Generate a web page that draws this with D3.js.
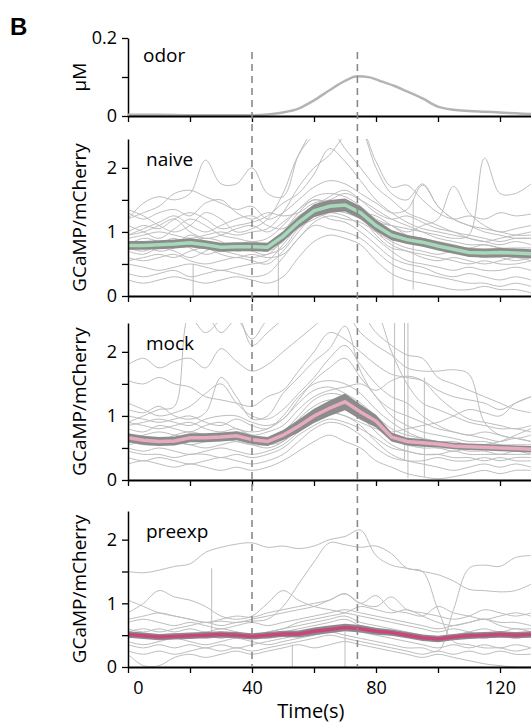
<!DOCTYPE html>
<html>
<head>
<meta charset="utf-8">
<script src="https://cdn.jsdelivr.net/npm/d3@7"></script>
<style>
  body { margin: 0; background: #fff; }
  text { font-family: "Open Sans", sans-serif; }
</style>
</head>
<body>
<div id="chart"></div>
<script>
// sample times (s) shared by every trace and mean
var times = [0,5,10,15,20,25,30,35,40,45,50,55,60,65,70,75,80,85,90,95,100,105,110,115,120,125,130];

// odor concentration (uM)
var odorTimes = [0,10,20,30,40,45,50,55,60,65,70,74,78,82,86,90,95,100,105,110,115,120,125,130];
var odorValues = [0.003,0.003,0.002,0.002,0.002,0.004,0.009,0.019,0.04,0.066,0.09,0.102,0.099,0.088,0.077,0.063,0.045,0.024,0.016,0.013,0.011,0.009,0.007,0.005];

// stimulus markers (s)
var markerTimes = [40, 74];

// naive
var naiveTraces = [
  [1.2,1.45,1.55,1.5,1.6,2.12,1.75,1.75,2.0,1.6,1.55,2.2,2.6,2.8,2.7,2.6,2.0,1.6,1.5,1.75,1.4,1.2,1.1,1.0,0.95,0.9,0.9],
  [0.95,1.0,1.1,1.2,1.0,0.9,0.95,1.05,1.1,1.0,1.15,1.35,1.5,1.45,1.35,1.25,1.15,1.1,1.05,1.0,0.95,0.9,0.95,2.15,1.6,1.6,1.75],
  [1.35,1.25,1.1,1.0,1.1,1.3,1.2,1.0,1.05,1.2,1.6,2.2,2.5,2.6,2.3,2.0,1.7,1.5,1.3,1.2,1.1,1.0,0.95,0.9,0.85,0.9,0.9],
  [0.9,0.95,1.0,0.95,0.9,0.95,1.0,0.95,1.0,1.05,1.3,1.7,2.0,2.2,2.5,2.6,2.1,1.7,1.73,1.5,1.3,1.2,1.25,1.2,1.3,1.25,1.28],
  [1.2,1.3,1.4,1.6,1.65,1.55,1.45,1.35,1.4,1.2,1.3,1.5,1.7,1.8,1.75,1.6,1.45,1.3,1.35,1.73,1.4,1.2,1.1,1.05,1.0,0.95,0.95],
  [1.1,1.0,0.9,1.05,1.2,1.1,0.95,0.9,0.85,0.9,1.1,1.35,1.55,1.6,1.55,1.4,1.2,1.1,1.0,1.1,1.2,1.71,1.3,1.1,1.0,1.05,1.1],
  [0.8,0.9,0.85,0.8,0.95,0.85,0.75,0.8,0.85,0.8,1.0,1.3,1.5,1.45,1.5,1.35,1.05,0.9,0.85,0.8,0.75,0.7,0.65,0.6,0.65,0.6,0.6],
  [0.7,0.65,0.75,0.7,0.6,0.7,0.8,0.75,0.7,0.65,0.9,1.2,1.4,1.35,1.3,1.2,1.0,0.8,0.7,0.65,0.6,0.55,0.5,0.55,0.5,0.5,0.55],
  [0.6,0.55,0.6,0.65,0.55,0.5,0.55,0.6,0.55,0.5,0.7,1.0,1.25,1.3,1.25,1.1,0.9,0.7,0.55,0.5,0.45,0.4,0.45,0.4,0.4,0.45,0.4],
  [0.5,0.45,0.4,0.45,0.5,0.45,0.4,0.45,0.5,0.55,0.8,1.1,1.3,1.2,1.15,1.0,0.8,0.6,0.5,0.45,0.35,0.3,0.35,0.3,0.25,0.3,0.25],
  [0.35,0.3,0.35,0.4,0.3,0.35,0.4,0.35,0.3,0.35,0.6,0.9,1.1,1.05,1.0,0.9,0.7,0.5,0.4,0.35,0.3,0.25,0.2,0.2,0.15,0.2,0.15],
  [1.0,1.1,1.05,1.2,1.3,1.2,1.05,1.1,1.15,1.25,1.45,1.6,1.9,2.3,2.1,1.8,1.5,1.3,1.15,1.05,1.0,0.95,0.9,0.85,0.8,0.85,0.8],
  [0.85,0.8,0.7,0.75,0.85,0.9,0.85,0.7,0.75,0.7,0.85,1.15,1.35,1.4,1.35,1.3,1.25,1.1,0.95,0.9,0.85,0.8,0.75,0.8,0.75,0.7,0.7],
  [0.75,0.7,0.8,0.9,0.75,0.65,0.7,0.65,0.6,0.65,0.75,1.05,1.2,1.3,1.4,1.25,0.95,0.75,0.7,0.6,0.55,0.6,0.55,0.5,0.55,0.6,0.55],
  [0.95,1.05,1.15,1.25,1.1,1.0,1.1,1.2,1.25,1.1,1.05,1.25,1.4,1.55,1.65,1.5,1.3,1.2,1.25,1.15,1.05,1.0,0.9,0.85,0.9,0.95,1.0],
  [0.55,0.6,0.65,0.6,0.7,0.75,0.65,0.6,0.65,0.6,0.65,0.9,1.15,1.25,1.2,1.15,1.0,0.85,0.75,0.7,0.65,0.7,0.65,0.6,0.6,0.55,0.6],
  [0.25,0.2,0.25,0.3,0.25,0.2,0.25,0.3,0.25,0.2,0.3,0.6,0.85,0.95,0.9,0.8,0.55,0.35,0.25,0.2,0.15,0.1,0.1,0.15,0.1,0.1,0.05],
  [1.3,1.2,1.3,1.35,1.25,1.45,1.5,1.3,1.2,1.3,1.25,1.3,1.45,1.5,1.6,1.5,1.35,1.2,1.1,1.0,0.9,0.85,0.8,0.8,0.75,0.75,0.75]
];
var naiveSpikes = [[21,0.5,0],[48.5,0.9,0],[85.5,0.9,0],[92,1.5,0.1]];   // [time, from, to]
var naiveMean = [0.79,0.79,0.80,0.81,0.83,0.80,0.76,0.77,0.77,0.76,0.93,1.15,1.33,1.40,1.42,1.30,1.10,0.95,0.88,0.84,0.78,0.73,0.68,0.67,0.68,0.67,0.66];
var naiveSem = [0.07,0.07,0.07,0.07,0.07,0.07,0.07,0.07,0.07,0.07,0.08,0.09,0.1,0.1,0.1,0.1,0.09,0.08,0.07,0.07,0.07,0.07,0.07,0.07,0.07,0.07,0.07];

// mock
var mockTraces = [
  [1.8,1.9,1.75,1.85,1.9,1.75,2.05,1.85,1.7,1.8,2.0,2.2,2.4,2.6,2.6,2.3,2.1,1.95,1.75,1.7,1.7,1.72,1.65,0.9,0.7,0.65,0.6],
  [1.55,1.5,1.6,1.5,1.45,1.3,1.25,1.2,1.15,1.3,1.4,1.7,2.0,2.3,2.2,2.0,1.8,1.65,1.6,1.55,1.4,1.3,1.25,1.2,1.1,1.2,1.3],
  [0.9,1.0,1.1,1.15,2.6,2.6,2.3,2.5,2.2,2.5,2.6,2.6,2.6,2.6,2.6,2.6,2.6,2.0,1.5,1.2,1.1,1.0,0.9,0.85,0.8,0.8,0.75],
  [1.2,1.1,1.0,1.05,1.15,1.35,1.5,1.2,1.0,0.95,1.1,1.35,1.6,1.9,2.1,1.8,1.5,1.3,1.2,1.0,0.85,0.75,0.7,0.65,0.6,0.65,0.6],
  [1.0,0.95,0.9,0.95,1.0,0.9,0.85,0.95,0.85,0.8,1.0,1.3,1.5,1.55,1.5,1.35,1.1,0.9,0.75,0.65,0.6,0.6,0.55,0.55,0.5,0.5,0.5],
  [0.8,0.75,0.85,0.8,0.75,0.85,0.9,0.8,0.75,0.8,0.95,1.2,1.4,1.45,1.35,1.2,1.0,0.8,0.7,0.65,0.6,0.55,0.55,0.5,0.5,0.45,0.45],
  [0.7,0.65,0.6,0.7,0.75,0.7,0.65,0.75,0.7,0.6,0.75,1.0,1.25,1.35,1.3,1.1,0.9,0.7,0.6,0.55,0.5,0.5,0.45,0.45,0.4,0.45,0.4],
  [0.6,0.55,0.55,0.6,0.55,0.5,0.55,0.6,0.55,0.5,0.6,0.85,1.05,1.2,1.15,1.0,0.75,0.55,0.45,0.4,0.4,0.35,0.35,0.3,0.35,0.3,0.3],
  [0.5,0.45,0.5,0.45,0.4,0.45,0.5,0.45,0.4,0.45,0.55,0.75,0.95,1.05,1.0,0.85,0.6,0.4,0.3,0.25,0.2,0.15,0.2,0.25,0.2,0.25,0.2],
  [0.35,0.3,0.35,0.3,0.25,0.3,0.35,0.3,0.25,0.3,0.4,0.6,0.8,0.9,0.85,0.7,0.5,0.35,0.3,0.3,0.35,0.3,0.3,0.35,0.3,0.35,0.35],
  [0.25,0.3,0.25,0.2,0.25,0.2,0.15,0.2,0.15,0.2,0.3,0.45,0.6,0.7,0.6,0.5,0.3,0.2,0.1,0.05,0.02,0.05,0.1,0.15,0.1,0.15,0.15],
  [1.1,1.05,1.15,1.0,0.95,1.05,1.6,1.3,0.95,1.0,1.35,1.6,1.85,2.05,2.4,1.7,1.3,1.1,1.0,0.9,0.8,0.75,0.7,0.75,0.7,0.65,0.7],
  [0.9,0.85,0.8,0.85,0.9,0.8,0.75,0.8,0.7,0.75,0.85,1.1,1.3,1.4,1.45,1.5,1.4,1.55,1.62,1.55,1.3,1.1,0.95,0.9,0.85,0.8,0.85],
  [0.65,0.7,0.75,0.7,0.65,0.6,0.7,0.65,0.6,0.65,0.7,0.95,1.15,1.25,1.2,1.05,0.85,0.65,0.55,0.5,0.5,0.45,0.5,0.55,0.6,0.7,0.8],
  [0.45,0.4,0.4,0.35,0.4,0.4,0.35,0.4,0.35,0.4,0.5,0.7,0.85,0.95,0.9,0.8,0.65,0.5,0.45,0.4,0.4,0.45,0.4,0.4,0.4,0.4,0.4],
  [0.55,0.6,0.65,0.6,0.55,0.6,0.65,0.6,0.55,0.55,0.6,0.8,1.0,1.05,1.0,0.9,0.8,0.75,0.8,0.85,0.9,1.0,1.1,1.05,1.0,1.2,1.3],
  [2.6,2.6,2.6,2.6,2.55,2.3,2.5,2.6,2.1,2.3,2.5,2.6,2.6,2.6,2.6,2.6,2.3,2.1,1.95,1.9,1.6,1.5,1.4,1.3,1.2,1.1,1.05],
  [0.85,0.9,0.95,0.9,0.85,0.95,1.0,1.0,0.9,0.85,0.95,1.25,1.55,1.75,1.9,1.6,1.3,1.0,0.85,0.75,0.7,0.65,0.6,0.6,0.55,0.55,0.55]
];
var mockSpikes = [[86,2.45,0.6],[89.2,2.45,0.3],[90.3,2.45,0.03],[95.6,1.6,0.05]];
var mockMean = [0.66,0.62,0.60,0.61,0.66,0.66,0.67,0.69,0.63,0.60,0.70,0.84,1.00,1.12,1.22,1.06,0.92,0.67,0.60,0.58,0.56,0.53,0.52,0.51,0.50,0.49,0.48];
var mockSem = [0.07,0.07,0.07,0.07,0.07,0.07,0.07,0.07,0.07,0.07,0.08,0.1,0.11,0.12,0.13,0.12,0.1,0.07,0.06,0.06,0.05,0.05,0.05,0.05,0.05,0.05,0.05];

// preexp
var preexpTraces = [
  [1.5,1.48,1.52,1.58,1.62,1.8,1.88,1.93,1.95,1.88,1.9,1.86,1.9,2.0,2.05,2.15,1.75,1.6,1.55,1.5,1.45,1.35,1.22,1.2,1.18,1.2,1.3],
  [0.55,0.6,0.55,0.6,0.65,0.7,0.65,0.7,0.72,0.75,0.95,1.3,1.65,1.95,1.92,1.88,1.9,1.78,1.55,1.5,0.9,0.4,0.35,0.3,0.3,0.25,0.3],
  [0.4,0.35,0.4,0.45,0.4,0.35,0.4,0.45,0.4,0.35,0.4,0.45,0.5,0.55,0.5,0.45,0.4,0.35,0.3,0.3,0.25,0.9,1.55,1.6,1.58,1.72,1.75],
  [0.85,1.0,1.2,1.1,1.05,0.95,0.8,0.75,0.8,1.0,1.2,1.05,0.95,0.9,0.85,0.8,0.75,0.7,0.65,0.6,0.55,0.6,0.55,0.5,0.55,0.5,0.5],
  [0.5,0.48,0.5,0.52,0.5,0.55,0.5,0.48,0.5,0.45,0.5,0.52,0.55,0.6,0.62,0.6,0.55,0.5,0.48,0.45,0.42,0.45,0.48,0.5,0.5,0.52,0.5],
  [1.05,0.95,0.85,0.8,0.75,0.7,0.72,0.7,0.75,0.8,0.85,0.9,0.95,1.05,1.15,1.0,0.95,1.1,0.9,0.85,0.8,0.75,0.8,0.9,0.85,0.8,0.85],
  [0.7,0.75,0.7,0.65,0.7,0.65,0.6,0.65,0.7,0.65,0.7,0.75,0.8,0.85,0.9,0.85,0.8,0.75,0.7,0.65,0.6,0.65,0.7,0.75,0.7,0.7,0.65],
  [0.6,0.55,0.6,0.55,0.6,0.55,0.6,0.55,0.5,0.55,0.6,0.65,0.7,0.75,0.8,0.7,0.65,0.6,0.55,0.5,0.45,0.5,0.55,0.6,0.55,0.6,0.55],
  [0.45,0.5,0.45,0.5,0.45,0.5,0.45,0.5,0.45,0.5,0.55,0.6,0.65,0.7,0.75,0.65,0.6,0.55,0.5,0.45,0.4,0.45,0.5,0.45,0.5,0.45,0.5],
  [0.35,0.3,0.35,0.3,0.35,0.3,0.35,0.3,0.35,0.4,0.45,0.5,0.55,0.6,0.6,0.55,0.5,0.45,0.4,0.35,0.3,0.35,0.3,0.35,0.3,0.35,0.3],
  [0.25,0.2,0.25,0.2,0.25,0.3,0.25,0.3,0.25,0.3,0.35,0.4,0.45,0.5,0.45,0.4,0.35,0.3,0.25,0.2,0.25,0.2,0.25,0.2,0.25,0.2,0.2],
  [0.2,0.02,0.02,0.15,0.2,0.15,0.2,0.25,0.2,0.25,0.3,0.35,0.3,0.35,0.4,0.35,0.3,0.25,0.2,0.15,0.2,0.15,0.1,0.05,0.02,0,0],
  [0.75,0.8,0.85,0.8,0.75,0.7,0.75,0.8,0.78,0.85,0.9,0.95,1.0,1.05,1.15,1.0,1.12,0.9,0.85,0.8,0.95,0.85,0.8,0.75,0.8,0.85,0.8],
  [0.55,0.5,0.5,0.45,0.5,0.45,0.5,0.55,0.5,0.55,0.6,0.7,0.75,0.8,0.85,0.95,0.9,0.85,0.9,0.8,0.7,0.65,0.7,0.75,0.65,0.6,0.6]
];
var preexpSpikes = [[27,0.5,1.55],[53,0.35,0],[70,0.6,0]];
var preexpMean = [0.51,0.49,0.47,0.48,0.49,0.50,0.51,0.50,0.48,0.50,0.52,0.52,0.56,0.59,0.62,0.60,0.56,0.54,0.50,0.46,0.44,0.47,0.49,0.50,0.51,0.50,0.51];
var preexpSem = [0.05,0.05,0.05,0.05,0.05,0.05,0.05,0.05,0.05,0.05,0.05,0.055,0.06,0.06,0.06,0.06,0.055,0.05,0.05,0.05,0.05,0.05,0.05,0.05,0.05,0.05,0.05];

var svgWidth = 531;
var svgHeight = 726;

var svg = d3.select("#chart")
  .append("svg")
  .attr("width", svgWidth)
  .attr("height", svgHeight);

var xScale = d3.scaleLinear().domain([0, 130]).range([128, 531]);

var panels = [
  { name: "naive", top: 139, bottom: 296, traces: naiveTraces, spikes: naiveSpikes, mean: naiveMean, sem: naiveSem, color: "#a6d9b9" },
  { name: "mock", top: 323, bottom: 480, traces: mockTraces, spikes: mockSpikes, mean: mockMean, sem: mockSem, color: "#e8aabf" },
  { name: "preexp", top: 511, bottom: 667, traces: preexpTraces, spikes: preexpSpikes, mean: preexpMean, sem: preexpSem, color: "#c9467c" }
];

// panel letter
svg.append("text")
  .attr("x", 10).attr("y", 35)
  .style("font-family", "'Liberation Sans', Arial, sans-serif")
  .style("font-weight", "bold")
  .style("font-size", "24px")
  .text("B");

function drawXAxis(y, labelled) {
  var axis = d3.axisBottom(xScale)
    .tickValues([0, 20, 40, 60, 80, 100, 120])
    .tickSize(6)
    .tickSizeOuter(0)
    .tickPadding(8)
    .tickFormat(function(d) { return labelled && d % 40 === 0 ? d : ""; });
  var g = svg.append("g").attr("transform", "translate(0," + y + ")").call(axis);
  g.select(".domain").attr("stroke", "#000").attr("stroke-width", 2);
  g.selectAll(".tick line").attr("stroke", "#000").attr("stroke-width", 1.3);
  g.selectAll(".tick text").style("font-size", "18px").attr("fill", "#000");
  g.selectAll(".tick text").filter(function(d) { return d === 0; }).attr("dx", 10);
  return g;
}

function drawYAxis(yScale, values, fmt) {
  var axis = d3.axisLeft(yScale)
    .tickValues(values)
    .tickSize(6)
    .tickSizeOuter(0)
    .tickPadding(5)
    .tickFormat(fmt);
  var g = svg.append("g").attr("transform", "translate(128,0)").call(axis);
  g.select(".domain").attr("stroke", "#000").attr("stroke-width", 1.5);
  g.selectAll(".tick line").attr("stroke", "#000").attr("stroke-width", 1.3);
  g.selectAll(".tick text").style("font-size", "18px").attr("fill", "#000");
}

// ---- odor panel ----
var yOdor = d3.scaleLinear().domain([0, 0.2]).range([116, 38]);
drawYAxis(yOdor, [0, 0.1, 0.2], function(d) { return d === 0.1 ? "" : (d === 0 ? "0" : "0.2"); });

var odorLine = d3.line()
  .x(function(d, i) { return xScale(odorTimes[i]); })
  .y(function(d) { return yOdor(d); })
  .curve(d3.curveMonotoneX);

svg.append("path")
  .attr("d", odorLine(odorValues))
  .attr("fill", "none")
  .attr("stroke", "#b4b4b4")
  .attr("stroke-width", 2.5);

drawXAxis(116, false);

svg.append("text")
  .attr("x", 143).attr("y", 62)
  .style("font-size", "19px")
  .text("odor");

svg.append("text")
  .attr("transform", "translate(86,77) rotate(-90)")
  .attr("text-anchor", "middle")
  .style("font-size", "19px")
  .text("\u00b5M");

// ---- response panels ----
panels.forEach(function(p, k) {
  var yScale = d3.scaleLinear().domain([0, 2.45]).range([p.bottom, p.top]);

  var clipId = "clip" + k;
  svg.append("clipPath").attr("id", clipId)
    .append("rect")
    .attr("x", 128).attr("y", p.top)
    .attr("width", 531 - 128).attr("height", p.bottom - p.top);

  var g = svg.append("g").attr("clip-path", "url(#" + clipId + ")");

  var traceLine = d3.line()
    .x(function(d, i) { return xScale(times[i]); })
    .y(function(d) { return yScale(d); })
    .curve(d3.curveCatmullRom.alpha(0.5));

  var meanLine = d3.line()
    .x(function(d, i) { return xScale(times[i]); })
    .y(function(d) { return yScale(d); });

  g.selectAll(".trace")
    .data(p.traces)
    .enter().append("path")
    .attr("class", "trace")
    .attr("d", traceLine)
    .attr("fill", "none")
    .attr("stroke", "#bdbdbd")
    .attr("stroke-width", 1);

  g.selectAll(".spike")
    .data(p.spikes)
    .enter().append("line")
    .attr("class", "spike")
    .attr("x1", function(d) { return xScale(d[0]); })
    .attr("x2", function(d) { return xScale(d[0]); })
    .attr("y1", function(d) { return yScale(d[1]); })
    .attr("y2", function(d) { return yScale(d[2]); })
    .attr("stroke", "#bdbdbd")
    .attr("stroke-width", 1);

  var band = d3.area()
    .x(function(d, i) { return xScale(times[i]); })
    .y0(function(d, i) { return yScale(d - p.sem[i]); })
    .y1(function(d, i) { return yScale(d + p.sem[i]); });

  g.append("path")
    .attr("d", band(p.mean))
    .attr("fill", "#8c8c8c");

  g.append("path")
    .attr("d", meanLine(p.mean))
    .attr("fill", "none")
    .attr("stroke", p.color)
    .attr("stroke-width", 3.5);

  drawYAxis(yScale, [0, 0.5, 1, 1.5, 2], function(d) { return d % 1 === 0 ? d : ""; });
  drawXAxis(p.bottom, k === panels.length - 1);

  svg.append("text")
    .attr("x", 146).attr("y", p.top + 27)
    .style("font-size", "19px")
    .text(p.name);

  svg.append("text")
    .attr("transform", "translate(86," + ((p.top + p.bottom) / 2) + ") rotate(-90)")
    .attr("text-anchor", "middle")
    .style("font-size", "19px")
    .text("GCaMP/mCherry");
});

// stimulus dashed lines across all panels
svg.selectAll(".marker")
  .data(markerTimes)
  .enter().append("line")
  .attr("class", "marker")
  .attr("x1", function(d) { return xScale(d); })
  .attr("x2", function(d) { return xScale(d); })
  .attr("y1", 52)
  .attr("y2", 667)
  .attr("stroke", "#8a8a8a")
  .attr("stroke-width", 1.6)
  .attr("stroke-dasharray", "7,5");

svg.append("text")
  .attr("x", xScale(59))
  .attr("y", 718)
  .attr("text-anchor", "middle")
  .style("font-size", "20px")
  .text("Time(s)");
</script>
</body>
</html>
